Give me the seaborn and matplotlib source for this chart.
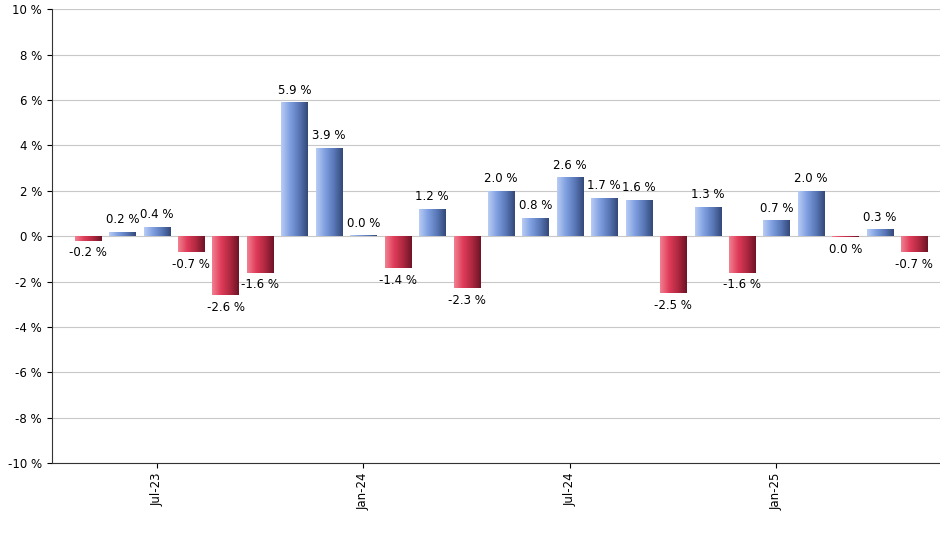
import matplotlib
matplotlib.use("Agg")
import matplotlib.pyplot as plt
import seaborn as sns
import numpy as np
import pandas as pd
from matplotlib.colors import LinearSegmentedColormap

months = ["May-23","Jun-23","Jul-23","Aug-23","Sep-23","Oct-23","Nov-23","Dec-23",
          "Jan-24","Feb-24","Mar-24","Apr-24","May-24","Jun-24","Jul-24","Aug-24",
          "Sep-24","Oct-24","Nov-24","Dec-24","Jan-25","Feb-25","Mar-25","Apr-25","May-25"]
values = [-0.2,0.2,0.4,-0.7,-2.6,-1.6,5.9,3.9,0.04,-1.4,1.2,-2.3,2.0,0.8,2.6,1.7,
          1.6,-2.5,1.3,-1.6,0.7,2.0,-0.04,0.3,-0.7]
tick_labels = {"Jul-23":"Jul-23","Jan-24":"Jan-24","Jul-24":"Jul-24","Jan-25":"Jan-25"}

df = pd.DataFrame({"month": months, "value": values})
fig = plt.figure(figsize=(9.4, 5.5), dpi=100)
ax = fig.add_axes([0.055, 0.158, 0.945, 0.825])
sns.barplot(data=df, x="month", y="value", ax=ax, width=0.76, color="#7f9fe0",
            saturation=1, zorder=3)

blue = LinearSegmentedColormap.from_list("b", ["#b8ccf5", "#7f9fe0", "#5a78b8", "#34497a"])
red = LinearSegmentedColormap.from_list("r", ["#f08090", "#e03c5a", "#b02840", "#6e1428"])
grad = np.linspace(0, 1, 64).reshape(1, -1)
for p, v in zip(ax.patches, values):
    x0, w = p.get_x(), p.get_width()
    y0, h = p.get_y(), p.get_height()
    cm = blue if v >= 0 else red
    im = ax.imshow(grad, cmap=cm, aspect="auto", extent=[x0, x0 + w, y0, y0 + h], zorder=4)
    im.set_clip_path(p)
    p.set_facecolor("none")
    p.set_edgecolor("none")
    lab = f"{abs(v):.1f} %" if abs(v) < 0.05 else f"{v:.1f} %"
    if v >= 0:
        ax.text(x0 + w / 2, v + 0.25, lab, ha="center", va="bottom", fontsize=8.5, zorder=5)
    else:
        ax.text(x0 + w / 2, v - 0.25, lab, ha="center", va="top", fontsize=8.5, zorder=5)

ax.set_xlim(-1.05, 24.75)
ax.set_ylim(-10, 10)
ax.set_yticks(range(-10, 11, 2))
ax.set_yticklabels([f"{t} %" for t in range(-10, 11, 2)], fontsize=8.5)
idx = [i for i, m in enumerate(months) if m in tick_labels]
ax.set_xticks(idx)
ax.set_xticklabels([tick_labels[months[i]] for i in idx], rotation=90, fontsize=8.5)
ax.set_xlabel(""); ax.set_ylabel("")
ax.grid(axis="y", color="#c8c8c8", linewidth=0.8, zorder=0)
ax.set_axisbelow(True)
for s in ["top", "right"]:
    ax.spines[s].set_visible(False)
ax.spines["left"].set_color("#333333")
ax.spines["bottom"].set_color("#333333")
fig.savefig("out.png", dpi=100)
